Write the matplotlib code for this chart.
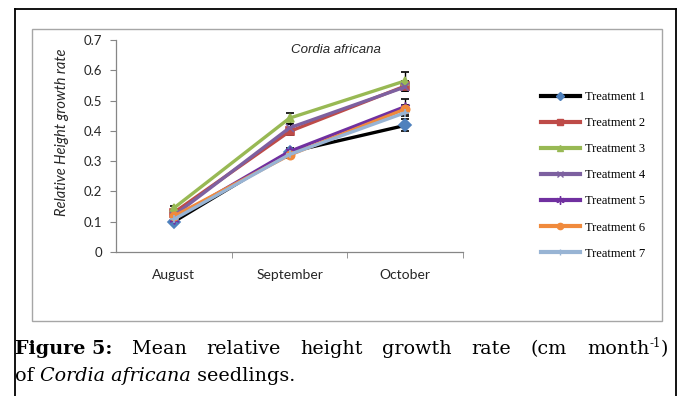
import matplotlib
matplotlib.use("Agg")
from matplotlib import pyplot as plt
from matplotlib.lines import Line2D
from matplotlib.patches import Rectangle
import numpy as np

months = ["August", "September", "October"]
treatments = ["Treatment 1", "Treatment 2", "Treatment 3", "Treatment 4",
              "Treatment 5", "Treatment 6", "Treatment 7"]
t1 = [0.100, 0.330, 0.418]
t2 = [0.130, 0.398, 0.548]
t3 = [0.145, 0.442, 0.565]
t4 = [0.120, 0.410, 0.545]
t5 = [0.110, 0.332, 0.480]
t6 = [0.118, 0.320, 0.472]
t7 = [0.108, 0.322, 0.460]
err1 = [0.008, 0.010, 0.020]
err2 = [0.008, 0.012, 0.015]
err3 = [0.008, 0.018, 0.030]
err4 = [0.008, 0.012, 0.012]
err5 = [0.008, 0.012, 0.025]
err6 = [0.008, 0.010, 0.012]
err7 = [0.008, 0.010, 0.012]
values = [t1, t2, t3, t4, t5, t6, t7]
errors = [err1, err2, err3, err4, err5, err6, err7]

colors = ["#000000", "#BE4B48", "#98B954", "#7D60A0", "#7030A0", "#F08A3C", "#98B4D4"]
mcolors = ["#4F81BD", "#BE4B48", "#98B954", "#7D60A0", "#7030A0", "#F08A3C", "#98B4D4"]
markers = ["D", "s", "^", "x", (6, 2, 0), "o", "+"]

W, H = 683, 396
fig = plt.figure(figsize=(W / 100, H / 100), dpi=100)

def fx(px):
    return px / W

def fy(py):
    return 1 - py / H

# page frame (open at bottom) and chart box
frame = dict(color="black", lw=1.3, transform=fig.transFigure)
fig.add_artist(Line2D([fx(15), fx(676)], [fy(9), fy(9)], **frame))
fig.add_artist(Line2D([fx(15), fx(15)], [fy(9), 0], **frame))
fig.add_artist(Line2D([fx(676), fx(676)], [fy(9), 0], **frame))
fig.add_artist(Rectangle((fx(32), fy(321)), fx(662) - fx(32), fy(29) - fy(321),
                         fill=False, ec="#A6A6A6", lw=1.0, transform=fig.transFigure))

ax = fig.add_axes([fx(116), fy(252), fx(463) - fx(116), fy(40) - fy(252)])
x = np.arange(len(months))
handles = []
for vals, errs, c, mc, m, lab in zip(values, errors, colors, mcolors, markers, treatments):
    ms = 7 if isinstance(m, tuple) else 6
    ax.errorbar(x, vals, yerr=errs, color=c, lw=2.4, ecolor="black", elinewidth=1,
                capsize=3, capthick=1, zorder=3,
                marker=m, ms=ms, mfc=mc, mec=mc, mew=1.2)
    handles.append(Line2D([], [], color=c, lw=3, marker=m, ms=4.5 if not isinstance(m, tuple) else 6,
                          mfc=mc, mec=mc, mew=1, label=lab))

ax.set_xlim(-0.5, 2.5)
ax.set_ylim(0, 0.7)
ax.set_yticks(np.arange(0, 0.71, 0.1))
ax.set_yticklabels(["0"] + [f"{v:.1f}" for v in np.arange(0.1, 0.71, 0.1)])
ax.set_xticks(x)
ax.set_xticklabels(months)
ax.set_xticks([0.5, 1.5, 2.5], minor=True)
ax.tick_params(axis="x", which="major", length=0, pad=12, labelsize=10, colors="#262626")
ax.tick_params(axis="x", which="minor", length=4, color="#868686", direction="out")
ax.tick_params(axis="y", length=4, color="#868686", pad=6, labelsize=9.5, labelcolor="#262626")
for lab in ax.get_xticklabels() + ax.get_yticklabels():
    lab.set_family("Lato")
for s in ("top", "right"):
    ax.spines[s].set_visible(False)
for s in ("left", "bottom"):
    ax.spines[s].set_color("#868686")
    ax.spines[s].set_linewidth(0.9)

ax.set_ylabel("Relative Height growth rate", family="Lato", style="italic",
              fontsize=10.5, color="#262626")
ax.yaxis.set_label_coords(-0.135, 0.565)
ax.text(0.635, 0.955, "Cordia africana", transform=ax.transAxes, ha="center", va="center",
        family="Liberation Sans", style="italic", fontsize=9.5, color="#262626")

fig.legend(handles=handles, loc="upper left", bbox_to_anchor=(fx(541), fy(91)),
           frameon=False, prop={"family": "Liberation Serif", "size": 9},
           handlelength=3.1, handletextpad=0.4, labelspacing=1.13, borderpad=0,
           borderaxespad=0)

# caption, first line justified
renderer = fig.canvas.get_renderer()
cap_kw = dict(family="DejaVu Serif", fontsize=13.8, color="black",
              va="baseline", ha="left")

def piece(xp, yp, s, **kw):
    opts = dict(cap_kw)
    opts.update(kw)
    return fig.text(xp, yp, s, transform=None, **opts)

words = ["Figure 5:", "Mean", "relative", "height", "growth", "rate", "(cm", "month"]
texts = []
for i, w in enumerate(words):
    texts.append(piece(0, 0, w, fontweight="bold" if i == 0 else "normal"))
sup = piece(0, 0, "-1", fontsize=8.5)
close = piece(0, 0, ")")
widths = [t.get_window_extent(renderer).width for t in texts]
sup_w = sup.get_window_extent(renderer).width
close_w = close.get_window_extent(renderer).width
widths[-1] += sup_w + close_w
left, right = 15, 668
gap = (right - left - sum(widths)) / (len(words) - 1)
xp = left
base1 = H - 354
for t, w in zip(texts, widths):
    t.set_position((xp, base1))
    xp += w + gap
mx = texts[-1].get_position()[0] + texts[-1].get_window_extent(renderer).width
sup.set_position((mx, base1 + 7))
close.set_position((mx + sup_w, base1))

line2 = [("of ", "normal"), ("Cordia africana", "italic"), (" seedlings.", "normal")]
xp = 15
for w, style in line2:
    t = piece(xp, H - 381, w, style=style)
    xp += t.get_window_extent(renderer).width

fig.savefig("out.png", dpi=100)
